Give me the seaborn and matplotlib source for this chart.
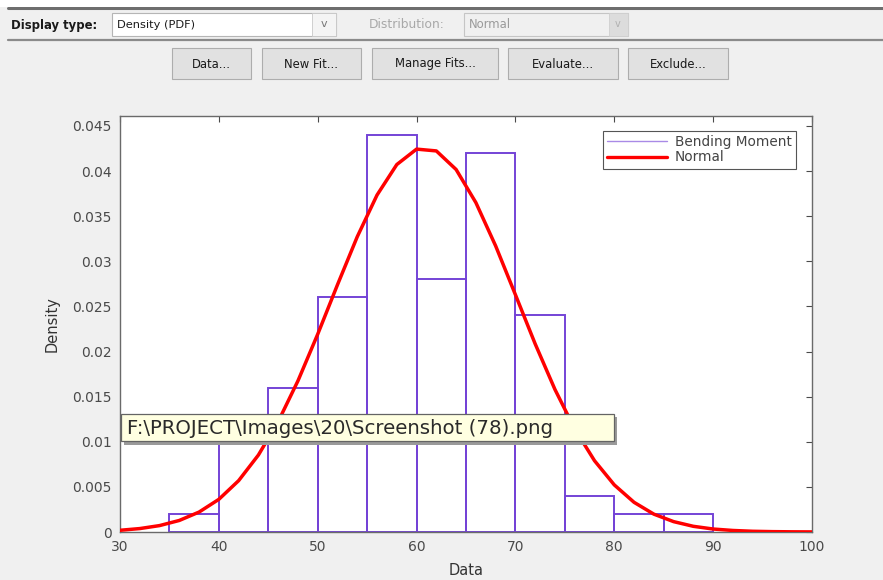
import seaborn as sns
import matplotlib.pyplot as plt
from matplotlib.patches import Rectangle
from matplotlib.lines import Line2D

# histogram bins (width 5) and their density heights
bin_edges = [35, 40, 45, 50, 55, 60, 65, 70, 75, 80, 85, 90]
bin_density = [0.002, 0.010, 0.016, 0.026, 0.044, 0.028, 0.042, 0.024, 0.004, 0.002, 0.002]

# fitted "Normal" curve, every 2 units
curve_x = [30, 32, 34, 36, 38, 40, 42, 44, 46, 48, 50, 52, 54, 56, 58, 60, 62, 64,
           66, 68, 70, 72, 74, 76, 78, 80, 82, 84, 86, 88, 90, 92, 94, 96, 98, 100]
curve_y = [0.00019, 0.00038, 0.00071, 0.00128, 0.00221, 0.00362, 0.00569, 0.00853,
           0.01223, 0.01675, 0.02192, 0.02740, 0.03272, 0.03734, 0.04072, 0.04243,
           0.04223, 0.04017, 0.03650, 0.03170, 0.02629, 0.02084, 0.01579, 0.01142,
           0.00790, 0.00522, 0.00329, 0.00198, 0.00115, 0.00063, 0.00033, 0.00017,
           0.00008, 0.00004, 0.00002, 0.00001]

x_ticks = [30, 40, 50, 60, 70, 80, 90, 100]
y_ticks = [0, 0.005, 0.01, 0.015, 0.02, 0.025, 0.03, 0.035, 0.04, 0.045]
y_ticklabels = ['0', '0.005', '0.01', '0.015', '0.02', '0.025', '0.03', '0.035', '0.04', '0.045']

buttons = ['Data...', 'New Fit...', 'Manage Fits...', 'Evaluate...', 'Exclude...']

sns.set_style('white')
plt.rcParams['font.family'] = ['DejaVu Sans']

W, H = 883, 580
fig = plt.figure(figsize=(W / 100, H / 100), dpi=100, facecolor='#f0f0f0')


def px(x, y):
    # screen pixel (top-left origin) -> figure fraction
    return x / W, 1 - y / H


def box(x0, y0, x1, y1, fc, ec, lw=0.8, z=2):
    fx, fy = px(x0, y1)
    r = Rectangle((fx, fy), (x1 - x0) / W, (y1 - y0) / H, transform=fig.transFigure,
                  facecolor=fc, edgecolor=ec, linewidth=lw, zorder=z)
    fig.patches.append(r)


def label(x, y, s, **kw):
    fx, fy = px(x, y)
    fig.text(fx, fy, s, va='center', zorder=5, **kw)


# ---- GUI chrome ----
box(0, 0, W, 7, 'white', 'none', lw=0)
fig.add_artist(Line2D([8 / W, 1], [1 - 8 / H] * 2, color='#6e6e6e', lw=2.2, transform=fig.transFigure))
fig.add_artist(Line2D([8 / W, 1], [1 - 40 / H] * 2, color='#8a8a8a', lw=1.6, transform=fig.transFigure))

label(11, 25, 'Display type:', fontsize=8.4, fontweight='bold', color='#1a1a1a')
box(112, 13, 336, 36, 'white', '#b5b5b5')
box(312, 13, 336, 36, '#f4f4f4', '#c8c8c8', lw=0.6)
label(117, 25, 'Density (PDF)', fontsize=8.2, color='#1a1a1a')
label(324, 24, 'v', fontsize=8, color='#777777', ha='center')

label(369, 25, 'Distribution:', fontsize=8.8, color='#a8a8a8')
box(464, 13, 628, 36, '#f0f0f0', '#c5c5c5')
box(609, 13, 628, 36, '#dcdcdc', '#cfcfcf', lw=0.6)
label(469, 25, 'Normal', fontsize=8.4, color='#9a9a9a')
label(618, 24, 'v', fontsize=7, color='#b0b0b0', ha='center')

btn_x = [(172, 251), (262, 361), (372, 498), (508, 618), (628, 728)]
for (x0, x1), name in zip(btn_x, buttons):
    box(x0, 48, x1, 79, '#e1e1e1', '#adadad')
    label((x0 + x1) / 2, 64, name, fontsize=8.4, color='#1a1a1a', ha='center')

# ---- axes ----
ax = fig.add_axes([120 / W, 1 - 532 / H, 692 / W, 416 / H])
ax.set_facecolor('white')

centers = [(a + b) / 2 for a, b in zip(bin_edges[:-1], bin_edges[1:])]
sns.histplot(x=centers, weights=bin_density, bins=bin_edges, fill=False,
             color='#7443d6', linewidth=1.4, ax=ax)
sns.lineplot(x=curve_x, y=curve_y, color='#ff0000', linewidth=2.5, ax=ax, zorder=4)

ax.set_xlim(30, 100)
ax.set_ylim(0, 0.0461)
ax.set_xticks(x_ticks)
ax.set_yticks(y_ticks)
ax.set_yticklabels(y_ticklabels)
ax.tick_params(direction='in', top=True, right=True, length=4, width=0.8,
               labelsize=10, colors='#4a4a4a', pad=6)
for s in ax.spines.values():
    s.set_color('#6a6a6a')
    s.set_linewidth(1.0)
ax.set_xlabel('Data', fontsize=10.5, color='#333333', labelpad=6)
ax.set_ylabel('Density', fontsize=10.5, color='#333333', labelpad=9)

handles = [Line2D([], [], color='#a98ae6', lw=1.0),
           Line2D([], [], color='#ff0000', lw=2.4)]
leg = ax.legend(handles, ['Bending Moment', 'Normal'], loc='upper right',
                bbox_to_anchor=(796 / W, 1 - 131 / H), bbox_transform=fig.transFigure,
                borderaxespad=0, fancybox=False, framealpha=1, edgecolor='#555555',
                fontsize=9.8, handlelength=4.4, handletextpad=0.6, borderpad=0.3,
                labelspacing=0.1)
leg.get_frame().set_linewidth(0.8)
for t in leg.get_texts():
    t.set_color('#444444')

# ---- tooltip over the plot ----
box(124, 417, 617, 445, '#9a9a9a', 'none', lw=0, z=6)
box(121, 414, 614, 441, '#ffffe1', '#646464', lw=0.9, z=7)
fx, fy = px(127, 428)
fig.text(fx, fy, 'F:\\PROJECT\\Images\\20\\Screenshot (78).png', va='center',
         fontsize=14.2, color='#2a2a2a', family='DejaVu Sans', zorder=8)

fig.savefig('out.png', dpi=100, facecolor=fig.get_facecolor())
